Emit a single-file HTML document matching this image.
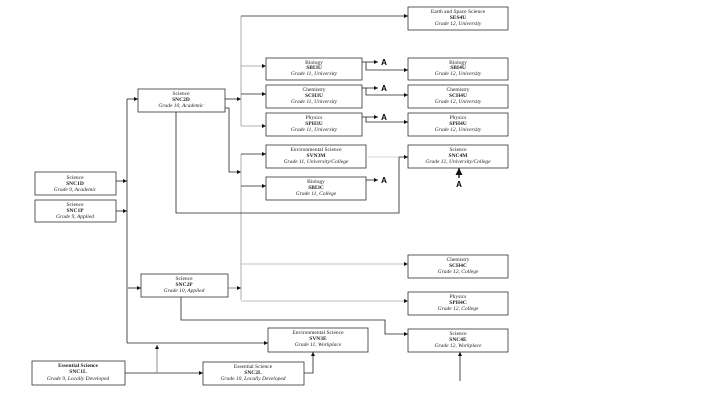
<!DOCTYPE html>
<html><head><meta charset="utf-8"><style>
html,body{margin:0;padding:0;background:#fff;width:720px;height:405px;overflow:hidden}
svg text{font-family:"Liberation Serif",serif;font-size:5.5px;fill:#222;text-anchor:middle}
.b{font-weight:bold}.i{font-style:italic}
.A{font-family:"Liberation Sans",sans-serif;font-weight:bold;font-size:8px;fill:#000}
</style></head><body>
<svg width="720" height="405" viewBox="0 0 720 405" xmlns="http://www.w3.org/2000/svg">
<defs><marker id="m" viewBox="0 0 6 6" refX="6" refY="3" markerWidth="5" markerHeight="5" orient="auto"><path d="M0,0L6,3L0,6z" fill="#111"/></marker></defs>
<g fill="#fff" stroke="#333" stroke-width="0.8">
<rect x="408" y="7" width="100" height="23"/>
<rect x="266" y="58" width="96" height="22"/>
<rect x="408" y="58" width="100" height="22"/>
<rect x="266" y="85" width="96" height="23"/>
<rect x="408" y="85" width="100" height="23"/>
<rect x="266" y="113" width="96" height="23"/>
<rect x="408" y="113" width="100" height="23"/>
<rect x="138" y="89" width="87" height="23"/>
<rect x="266" y="145" width="100" height="23"/>
<rect x="408" y="145" width="100" height="23"/>
<rect x="266" y="177" width="100" height="23"/>
<rect x="35" y="172" width="81" height="23"/>
<rect x="35" y="200" width="81" height="22"/>
<rect x="408" y="255" width="100" height="23"/>
<rect x="141" y="274" width="87" height="23"/>
<rect x="408" y="292" width="100" height="23"/>
<rect x="268" y="328" width="100" height="24"/>
<rect x="408" y="329" width="100" height="23"/>
<rect x="32" y="361" width="93" height="24"/>
<rect x="203" y="362" width="101" height="23"/>
</g>
<g fill="none" stroke="#222" stroke-width="0.8">
<path d="M127 99V343"/>
<path d="M127 99H138" marker-end="url(#m)"/>
<path d="M116 181H127" marker-end="url(#m)"/>
<path d="M116 211H127" marker-end="url(#m)"/>
<path d="M127 343H268" marker-end="url(#m)"/>
<path d="M128 288H141" marker-end="url(#m)"/>
<path d="M225 99H241" marker-end="url(#m)"/>
<path d="M241 16V126" stroke="#999"/>
<path d="M241 16H408" marker-end="url(#m)"/>
<path d="M241 66H266" stroke="#999" marker-end="url(#m)"/>
<path d="M241 94H266" marker-end="url(#m)"/>
<path d="M241 126H266" stroke="#999" marker-end="url(#m)"/>
<path d="M225 108H229V172H241" marker-end="url(#m)"/>
<path d="M241 154V300" stroke="#999"/>
<path d="M241 154H266" marker-end="url(#m)"/>
<path d="M241 186H266" marker-end="url(#m)"/>
<path d="M241 264H408" stroke="#aaa" marker-end="url(#m)"/>
<path d="M241 301H408" stroke="#aaa" marker-end="url(#m)"/>
<path d="M228 288H241" stroke="#777" marker-end="url(#m)"/>
<path d="M176 112V213H399V157H408" marker-end="url(#m)"/>
<path d="M366 157H399" stroke="#ccc"/>
<path d="M181 297V320H385V334H408" marker-end="url(#m)"/>
<path d="M460 381V352" marker-end="url(#m)"/>
<path d="M125 373H203" marker-end="url(#m)"/>
<path d="M157 373V345" stroke="#777" marker-end="url(#m)"/>
<path d="M304 373H313V352" marker-end="url(#m)"/>
<path d="M362 62H378" marker-end="url(#m)"/><path d="M366 62V70H408" marker-end="url(#m)"/>
<path d="M362 88H378" marker-end="url(#m)"/><path d="M366 88V95H408" marker-end="url(#m)"/>
<path d="M362 117H378" marker-end="url(#m)"/><path d="M366 117V122H408" marker-end="url(#m)"/>
<path d="M366 180H378" marker-end="url(#m)"/>
<path d="M459 178V168" stroke-width="1.4" marker-end="url(#m)"/>
</g>
<text class="A" x="384" y="65">A</text>
<text class="A" x="384" y="91">A</text>
<text class="A" x="384" y="120">A</text>
<text class="A" x="384" y="183">A</text>
<text class="A" x="459" y="187">A</text>
<g>
<text x="458" y="13">Earth and Space Science</text><text class="b" x="458" y="19">SES4U</text><text class="i" x="458" y="25">Grade 12, University</text>
<text x="314" y="64">Biology</text><text class="b" x="314" y="69">SBI3U</text><text class="i" x="314" y="75">Grade 11, University</text>
<text x="458" y="64">Biology</text><text class="b" x="458" y="69">SBI4U</text><text class="i" x="458" y="75">Grade 12, University</text>
<text x="314" y="91">Chemistry</text><text class="b" x="314" y="97">SCH3U</text><text class="i" x="314" y="103">Grade 11, University</text>
<text x="458" y="91">Chemistry</text><text class="b" x="458" y="97">SCH4U</text><text class="i" x="458" y="103">Grade 12, University</text>
<text x="314" y="119">Physics</text><text class="b" x="314" y="125">SPH3U</text><text class="i" x="314" y="131">Grade 11, University</text>
<text x="458" y="119">Physics</text><text class="b" x="458" y="125">SPH4U</text><text class="i" x="458" y="131">Grade 12, University</text>
<text x="181" y="95">Science</text><text class="b" x="181" y="101">SNC2D</text><text class="i" x="181" y="107">Grade 10, Academic</text>
<text x="316" y="151">Environmental Science</text><text class="b" x="316" y="157">SVN3M</text><text class="i" x="316" y="163">Grade 11, University/College</text>
<text x="458" y="151">Science</text><text class="b" x="458" y="157">SNC4M</text><text class="i" x="458" y="163">Grade 12, University/College</text>
<text x="316" y="183">Biology</text><text class="b" x="316" y="189">SBI3C</text><text class="i" x="316" y="195">Grade 11, College</text>
<text x="75" y="179">Science</text><text class="b" x="75" y="185">SNC1D</text><text class="i" x="75" y="191">Grade 9, Academic</text>
<text x="75" y="206">Science</text><text class="b" x="75" y="212">SNC1P</text><text class="i" x="75" y="218">Grade 9, Applied</text>
<text x="458" y="261">Chemistry</text><text class="b" x="458" y="267">SCH4C</text><text class="i" x="458" y="273">Grade 12, College</text>
<text x="184" y="280">Science</text><text class="b" x="184" y="286">SNC2P</text><text class="i" x="184" y="292">Grade 10, Applied</text>
<text x="458" y="298">Physics</text><text class="b" x="458" y="304">SPH4C</text><text class="i" x="458" y="310">Grade 12, College</text>
<text x="318" y="334">Environmental Science</text><text class="b" x="318" y="340">SVN3E</text><text class="i" x="318" y="346">Grade 11, Workplace</text>
<text x="458" y="335">Science</text><text class="b" x="458" y="341">SNC4E</text><text class="i" x="458" y="347">Grade 12, Workplace</text>
<text class="b" x="78" y="367">Essential Science</text><text class="b" x="78" y="373">SNC1L</text><text class="i" x="78" y="380">Grade 9, Locally Developed</text>
<text x="253" y="368">Essential Science</text><text class="b" x="253" y="374">SNC2L</text><text class="i" x="253" y="380">Grade 10, Locally Developed</text>
</g>
</svg>
</body></html>
